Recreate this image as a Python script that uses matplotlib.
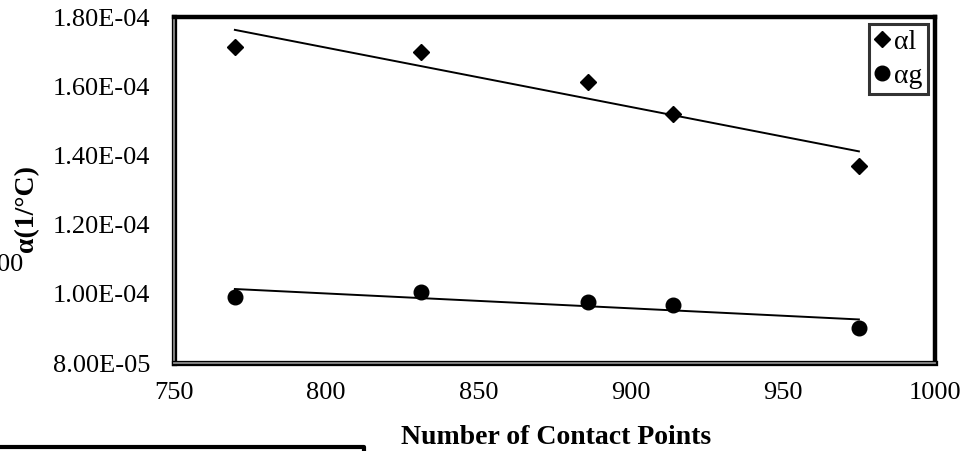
import numpy as np
import matplotlib
matplotlib.use("Agg")
import matplotlib.pyplot as plt
from matplotlib import patheffects as pe
from matplotlib.lines import Line2D

plt.rcParams['font.family'] = ['Liberation Serif', 'DejaVu Serif']

# Number of contact points and expansion coefficients
contact_points = [770, 831, 886, 914, 975]
alpha_l = [1.712e-4, 1.700e-4, 1.611e-4, 1.520e-4, 1.370e-4]
alpha_g = [0.9916e-4, 1.0043e-4, 0.977e-4, 0.9685e-4, 0.902e-4]
series_labels = ['αl', 'αg']

x_ticks = [750, 800, 850, 900, 950, 1000]
y_ticks = [8.0e-5, 1.0e-4, 1.2e-4, 1.4e-4, 1.6e-4, 1.8e-4]

FS = 20
TICK_FS = 19

fig = plt.figure(figsize=(9.6, 4.51), dpi=100)
ax = fig.add_axes([174 / 960, 1 - 363 / 451, (935 - 174) / 960, (363 - 17) / 451])

x = np.array(contact_points, dtype=float)


def trend(y):
    y = np.asarray(y)
    k, b = np.polyfit(x, y, 1)
    fit = k * x + b
    r2 = 1 - np.sum((y - fit) ** 2) / np.sum((y - y.mean()) ** 2)
    return k, b, r2


kl, bl, r2l = trend(alpha_l)
kg, bg, r2g = trend(alpha_g)
xs = np.array([x.min(), x.max()])

ax.plot(xs, kl * xs + bl, color='black', lw=1.4, zorder=2)
ax.plot(xs, kg * xs + bg, color='black', lw=1.4, zorder=2)
ax.plot(x, alpha_l, linestyle='none', marker='D', ms=7.8, color='black', zorder=3)
ax.plot(x, alpha_g, linestyle='none', marker='o', ms=10.5, color='black', zorder=3)

ax.text(438, 1.535e-4, f'R² = {r2l:.2f}', fontsize=TICK_FS, ha='left', va='center')
ax.text(406, 0.915e-4, f'R² = {r2g:.2f}', fontsize=TICK_FS, ha='left', va='center')

ax.set_xlim(750, 1000)
ax.set_ylim(8.0e-5, 1.8e-4)
ax.set_xticks(x_ticks)
ax.set_xticklabels([str(t) for t in x_ticks], fontsize=TICK_FS)
ax.set_yticks(y_ticks)
ax.set_yticklabels([f'{t:.2E}' for t in y_ticks], fontsize=TICK_FS)
ax.tick_params(length=0)
ax.tick_params(axis='y', pad=17)
ax.tick_params(axis='x', pad=14)

# Frame: solid top/right, outlined grey left/bottom
for side in ('top', 'right'):
    ax.spines[side].set_linewidth(3.2)
    ax.spines[side].set_color('black')
for side in ('left', 'bottom'):
    sp = ax.spines[side]
    sp.set_color('#8c8c8c')
    sp.set_linewidth(1.3)
    sp.set_path_effects([pe.Stroke(linewidth=3.8, foreground='black'), pe.Normal()])

handles = [Line2D([], [], linestyle='none', marker='D', ms=7.8, color='black'),
           Line2D([], [], linestyle='none', marker='o', ms=10.5, color='black')]
leg = ax.legend(handles, series_labels, loc='upper right',
                bbox_to_anchor=((928 - 174) / (935 - 174), 1 - (24 - 17) / (363 - 17)),
                fontsize=FS, frameon=True, fancybox=False, handlelength=0.55,
                handletextpad=0.15, borderpad=0.2, borderaxespad=0,
                labelspacing=0.3)
leg.get_frame().set_edgecolor('black')
leg.get_frame().set_linewidth(2.2)

fig.text(27 / 960, 1 - 208 / 451, 'α(1/°C)', rotation=90, fontsize=FS,
         fontweight='bold', ha='center', va='center')
fig.text(556 / 960, 1 - 438 / 451, 'Number of Contact Points', fontsize=FS,
         fontweight='bold', ha='center', va='center')
fig.text(-0.003, 1 - 265 / 451, '00', fontsize=TICK_FS, ha='left', va='center')

# Box edge running along the lower left corner
fig.add_artist(Line2D([0, 364 / 960, 364 / 960], [1 - 447 / 451, 1 - 447 / 451, 1 - 460 / 451],
                      transform=fig.transFigure, color='black', lw=3.0,
                      solid_joinstyle='round', solid_capstyle='butt'))

fig.savefig('out.png', dpi=100)
